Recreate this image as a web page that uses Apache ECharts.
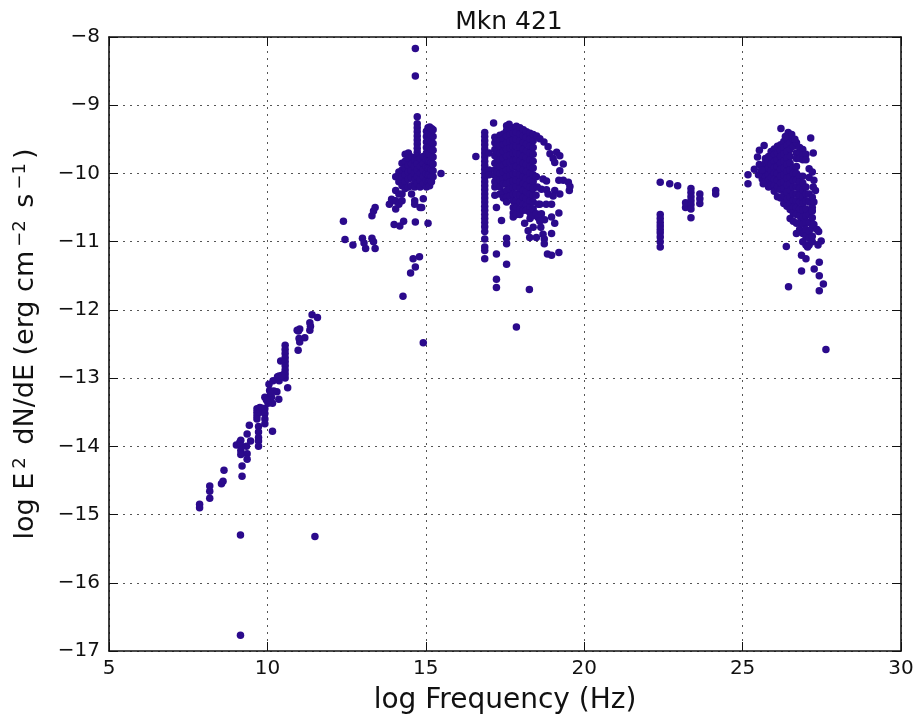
<!DOCTYPE html>
<html>
<head>
<meta charset="utf-8">
<style>html,body{margin:0;padding:0;background:#fff}#c{width:916px;height:717px}</style>
<script src="https://cdn.jsdelivr.net/npm/echarts@6/dist/echarts.min.js"></script>
</head>
<body>
<div id="c"></div>
<script>
const chartTitle = 'Mkn 421';
const xTicks = [5, 10, 15, 20, 25, 30];
const yTicks = [-17, -16, -15, -14, -13, -12, -11, -10, -9, -8];

const radioPoints = [[7.86,-14.85],[7.86,-14.9],[8.18,-14.58],[8.18,-14.66],[8.18,-14.76],[8.55,-14.55],[8.6,-14.51],[8.63,-14.35],[9.2,-14.44],[9.2,-14.29],
[9.02,-13.98],[9.13,-13.94],[9.16,-13.91],[9.16,-13.99],[9.16,-14.06],[9.16,-14.12],[9.34,-14],[9.36,-14.11],[9.36,-14.19],[9.47,-13.92],[9.36,-13.82],[9.43,-13.69],
[9.72,-13.71],[9.72,-13.79],[9.72,-13.87],[9.72,-13.92],[9.72,-14],[9.67,-13.45],[9.67,-13.5],[9.67,-13.55],[9.67,-13.6],[9.76,-13.43],[9.76,-13.5],[9.83,-13.44],
[9.92,-13.45],[9.92,-13.52],[9.92,-13.6],[9.92,-13.67],[10.16,-13.78],[9.92,-13.28],[10.13,-13.28],[10.16,-13.37],[10.36,-13.31],[10.02,-13.37],[9.97,-13.32],
[10.07,-13.18],[10.05,-13.09],[10.18,-13.04],[10.3,-13.2],[10.2,-13.19],[10.1,-13.22],[10.37,-13.04],[10.32,-12.98],[10.37,-12.97],[10.42,-12.75],[10.64,-13.14],
[10.56,-12.52],[10.56,-12.58],[10.56,-12.64],[10.56,-12.7],[10.56,-12.76],[10.56,-12.82],[10.56,-12.88],[10.56,-12.94],[10.56,-13],[10.5,-12.95],[10.45,-12.96],
[10.97,-12.59],[11.02,-12.47],[11,-12.42],[11.18,-12.41],[10.94,-12.3],[11.02,-12.28],[10.98,-12.31],[11.34,-12.3],[11.34,-12.19],[11.36,-12.24],[11.41,-12.07],[11.58,-12.11]];

const outlierPoints = [[9.15,-15.3],[11.5,-15.32],[9.15,-16.77],[14.92,-12.48],[17.86,-12.25],[27.63,-12.58]];

const infraredPoints = [[12.4,-10.7],[12.45,-10.97],[12.7,-11.05],[13,-10.95],[13.05,-11.02],[13.1,-11.1],[13.3,-10.95],[13.35,-11],[13.4,-11.1],[13.3,-10.62],[13.35,-10.55],[13.4,-10.5],[13.85,-10.45],[14,-10.4],[14,-10.75],[14.3,-10.7],[13.92,-10.38]];

const opticalColumnX = [14.05,14.15,14.25,14.35,14.45,14.55,14.65,14.73,14.82,14.92,15.02,15.07,15.12,15.18,15.23];
const opticalColumnY = [
 [-10.05,-10.25,-10.4,-10.52],
 [-9.98,-10.12,-10.3,-10.45],
 [-9.85,-9.95,-10.05,-10.18,-10.3,-10.4],
 [-9.72,-9.82,-9.92,-10.02,-10.12,-10.22],
 [-9.7,-9.78,-9.88,-9.98,-10.08,-10.2],
 [-9.76,-9.86,-9.96,-10.06,-10.18,-10.3],
 [-9.8,-9.9,-10,-10.1,-10.2,-10.4],
 [-9.27,-9.33,-9.39,-9.45,-9.51,-9.57,-9.63,-9.69,-9.75,-9.81,-9.86,-9.95,-10.05,-10.15],
 [-9.78,-9.9,-10,-10.1,-10.2,-10.5],
 [-9.75,-9.85,-9.95,-10.05,-10.15,-10.37],
 [-9.38,-9.46,-9.54,-9.62,-9.7,-9.8,-9.9,-10,-10.1,-10.2],
 [-9.33,-9.42,-9.52,-9.62,-9.72,-9.82,-9.92,-10.02,-10.12,-10.73],
 [-9.32,-9.42,-9.52,-9.62,-9.72,-9.82,-9.92,-10.02,-10.12,-10.18],
 [-9.34,-9.44,-9.54,-9.64,-9.74,-9.84,-9.94,-10.04,-10.12],
 [-9.36,-9.46,-9.56,-9.66,-9.76,-9.86,-9.96,-10.05]
];
const opticalExtraPoints = [[14.67,-8.17],[14.67,-8.57],[14.73,-9.17],[15.48,-10],[14.67,-10.71],[14.28,-11.8],[14.52,-11.46],[14.67,-11.37],[14.6,-11.25],[14.8,-11.22],[14.18,-10.77],[14.87,-10.5],[14.65,-10.45]];

const xrayColumnX = [16.86,17,17.18,17.26,17.34,17.45,17.55,17.66,17.76,17.86,17.97,18.08,18.18,18.29,18.39];
const xrayColumnY = [
 [-9.4,-9.46,-9.52,-9.58,-9.64,-9.7,-9.76,-9.82,-9.88,-9.94,-10,-10.06,-10.12,-10.18,-10.24,-10.3,-10.36,-10.42,-10.48,-10.54,-10.6,-10.66,-10.72,-10.78,-10.85,-10.96,-11.08,-11.13,-11.25],
 [-9.7,-9.95,-10.02],
 [-9.47,-9.55,-9.65,-9.74,-9.85,-9.95,-10.03,-10.12,-10.2,-10.32],
 [-9.5,-9.58,-9.68,-9.78,-9.88,-9.98,-10.08,-10.15],
 [-9.44,-9.52,-9.6,-9.7,-9.8,-9.9,-10,-10.1,-10.2,-10.3],
 [-9.42,-9.5,-9.58,-9.68,-9.78,-9.88,-9.98,-10.08,-10.15,-10.28,-10.36],
 [-9.37,-9.45,-9.55,-9.65,-9.75,-9.85,-9.95,-10.05,-10.15,-10.25,-10.35,-10.42],
 [-9.35,-9.43,-9.53,-9.63,-9.73,-9.83,-9.93,-10.03,-10.13,-10.23,-10.33],
 [-9.33,-9.41,-9.51,-9.61,-9.71,-9.81,-9.91,-10.01,-10.11,-10.21,-10.31,-10.4,-10.5,-10.58,-10.64],
 [-9.31,-9.4,-9.5,-9.6,-9.7,-9.8,-9.9,-10,-10.1,-10.2,-10.3,-10.4,-10.5,-10.6],
 [-9.33,-9.42,-9.52,-9.62,-9.72,-9.82,-9.92,-10.02,-10.12,-10.22,-10.32,-10.42,-10.52,-10.6],
 [-9.36,-9.45,-9.55,-9.65,-9.75,-9.85,-9.95,-10.05,-10.15,-10.25,-10.35,-10.45,-10.54],
 [-9.39,-9.47,-9.57,-9.67,-9.77,-9.87,-9.97,-10.07,-10.17,-10.27,-10.37,-10.47,-10.54],
 [-9.41,-9.5,-9.6,-9.7,-9.8,-9.9,-10,-10.1,-10.2,-10.3,-10.4,-10.5,-10.58,-10.66],
 [-9.43,-9.52,-9.62,-9.72,-9.82,-9.92,-10.02,-10.12,-10.22,-10.32,-10.42,-10.52,-10.62]
];
const xrayExtraPoints = [[16.58,-9.75],[17.14,-9.26],[17.55,-9.3],[17.63,-9.28],[18.6,-10.45],[18.8,-10.45],[18.97,-10.45],[18.49,-10.59],[18.65,-10.59],[18.97,-10.64],[19.07,-10.73],[19.2,-10.58],[18.12,-10.73],[18.39,-10.79],[18.23,-10.84],[18.63,-10.79],[18.28,-10.94],[18.49,-10.94],[18.7,-10.89],[18.97,-10.88],[18.74,-10.96],[18.74,-11.03],[18.84,-11.18],[18.97,-11.2],[19.2,-11.16],[17.55,-10.95],[17.55,-11.03],[17.23,-11.18],[17.55,-11.33],[17.23,-11.55],[17.23,-11.67],[18.27,-11.7],[17.39,-10.69],[17.23,-10.5],
[18.65,-10.23],[18.81,-10.24],[19.07,-10.25],[19.23,-10.3],[18.86,-10.3],[19.02,-10.33],[18.7,-10.08],[18.81,-10.11],[18.49,-10.05],[18.55,-10.65],[18.75,-10.68],[18.55,-10.45],[18.48,-10.32],[18.52,-10.2],[18.6,-10.7],
[18.5,-9.45],[18.6,-9.49],[18.73,-9.54],[18.86,-9.61],[18.92,-9.71],[19.13,-9.69],[19.23,-9.74],[19.02,-9.78],[19.07,-9.84],[19.34,-9.86],[19.23,-9.96],[19.34,-10.1],[19.5,-10.13],[19.53,-10.25],[19.55,-10.19],[19.2,-10.1]];

const gevPoints = [[22.4,-10.13],[22.4,-10.6],[22.4,-10.66],[22.4,-10.72],[22.4,-10.77],[22.4,-10.82],[22.4,-10.87],[22.4,-10.93],[22.4,-11],[22.4,-11.08],[22.7,-10.15],[22.95,-10.18],[23.2,-10.5],[23.2,-10.43],[23.37,-10.22],[23.37,-10.28],[23.37,-10.34],[23.37,-10.4],[23.37,-10.46],[23.37,-10.52],[23.37,-10.65],[23.65,-10.3],[23.65,-10.37],[23.65,-10.44],[24.15,-10.25],[24.15,-10.3]];

const tevColumnX = [25.62,25.72,25.82,25.9,26,26.1,26.2,26.3,26.4,26.5,26.6,26.7,26.8,26.9,27,27.1,27.2];
const tevColumnY = [
 [-9.9,-10,-10.08],
 [-9.78,-9.85,-9.95,-10.05,-10.12],
 [-9.75,-9.84,-9.92,-10.02,-10.1,-10.2],
 [-9.68,-9.76,-9.86,-9.96,-10.06,-10.17],
 [-9.64,-9.72,-9.82,-9.91,-10,-10.09,-10.18,-10.26],
 [-9.6,-9.7,-9.8,-9.9,-10,-10.1,-10.2,-10.34],
 [-9.58,-9.66,-9.75,-9.85,-9.94,-10.04,-10.14,-10.24,-10.36],
 [-9.53,-9.62,-9.72,-9.82,-9.92,-10.02,-10.12,-10.22,-10.32,-10.44],
 [-9.5,-9.59,-9.68,-9.77,-9.87,-9.97,-10.07,-10.17,-10.27,-10.37,-10.48],
 [-9.55,-9.65,-9.75,-9.85,-9.95,-10.05,-10.15,-10.25,-10.35,-10.45,-10.53,-10.66],
 [-9.5,-9.6,-9.92,-10,-10.1,-10.2,-10.3,-10.4,-10.5,-10.58,-10.7],
 [-9.55,-9.7,-9.78,-9.9,-10,-10.1,-10.2,-10.3,-10.4,-10.5,-10.6,-10.73,-10.88],
 [-9.62,-9.7,-9.78,-10.04,-10.12,-10.22,-10.32,-10.42,-10.52,-10.62,-10.72,-10.82],
 [-9.65,-9.73,-9.8,-10.04,-10.14,-10.24,-10.34,-10.44,-10.54,-10.64,-10.74,-10.88,-11],
 [-9.72,-9.8,-10.2,-10.3,-10.4,-10.52,-10.62,-10.72,-10.82,-10.92,-11.05],
 [-9.93,-10.06,-10.3,-10.42,-10.6,-10.72,-10.85,-10.95,-11.05],
 [-10.35,-10.5,-10.65,-10.8,-10.92,-11]
];
const tevExtraPoints = [[26.21,-9.34],[26.44,-9.4],[26.55,-9.43],[26.35,-9.46],[26.65,-9.5],[27.15,-9.48],[27.23,-9.7],[25.68,-9.59],[25.53,-9.66],[25.47,-9.76],[25.37,-9.94],[25.17,-10.02],[25.17,-10.15],[25.65,-10.15],[25.53,-9.87],[25.5,-10.02],[25.6,-9.95],[27.2,-9.98],[27.25,-10.1],[27.23,-10.2],[27.3,-10.25],[27.25,-10.42],[27.2,-10.55],[27.25,-10.75],[27.35,-10.82],[27.4,-10.85],[27.48,-10.99],[27.38,-11.05],[27.05,-11.08],[26.38,-11.07],[26.86,-11.2],[27,-11.25],[27.42,-11.3],[27.26,-11.4],[26.86,-11.43],[27.42,-11.5],[27.55,-11.62],[27.42,-11.72],[26.45,-11.66]];

function fromColumns(xs, ysList) {
  const out = [];
  xs.forEach((x, i) => ysList[i].forEach(y => out.push([x, y])));
  return out;
}
const allPoints = [].concat(
  radioPoints, outlierPoints, infraredPoints,
  fromColumns(opticalColumnX, opticalColumnY), opticalExtraPoints,
  fromColumns(xrayColumnX, xrayColumnY), xrayExtraPoints,
  gevPoints,
  fromColumns(tevColumnX, tevColumnY), tevExtraPoints
);

const ink = '#111';
const font = '"DejaVu Sans"';
const minus = v => String(v).replace('-', '\u2212');
const dotted = { show: true, lineStyle: { color: '#555', type: [2, 5], width: 1 } };
const frame = { show: true, lineStyle: { color: '#111', width: 1.6 } };
const tick = { show: true, inside: true, length: 9, lineStyle: { color: '#111', width: 1 } };

const chart = echarts.init(document.getElementById('c'), null, { renderer: 'canvas' });
chart.setOption({
  animation: false,
  backgroundColor: '#fff',
  title: {
    text: chartTitle, left: 504, top: 5, textAlign: 'center',
    textStyle: { fontFamily: font, fontSize: 25, fontWeight: 'normal', color: ink }
  },
  grid: { left: 109, right: 15, top: 37, bottom: 66, outerBoundsMode: 'none' },
  xAxis: [
    { type: 'value', min: xTicks[0], max: xTicks[xTicks.length - 1], interval: 5, position: 'bottom',
      axisLine: frame, axisTick: tick, splitLine: dotted,
      axisLabel: { fontFamily: font, fontSize: 20, color: ink, margin: 8, formatter: v => minus(v) },
      name: 'log Frequency (Hz)', nameLocation: 'middle', nameGap: 36,
      nameTextStyle: { fontFamily: font, fontSize: 28, color: ink } },
    { type: 'value', min: xTicks[0], max: xTicks[xTicks.length - 1], interval: 5, position: 'top',
      axisLine: frame, axisTick: tick, splitLine: { show: false }, axisLabel: { show: false } }
  ],
  yAxis: [
    { type: 'value', min: yTicks[0], max: yTicks[yTicks.length - 1], interval: 1, position: 'left',
      axisLine: frame, axisTick: tick, splitLine: dotted,
      axisLabel: { fontFamily: font, fontSize: 20, color: ink, margin: 9, formatter: v => minus(v) },
      name: 'log E{sup|2} dN/dE (erg cm{sup|\u22122} s{sup|\u22121})', nameLocation: 'middle', nameGap: 68,
      nameTextStyle: { fontFamily: font, fontSize: 27, color: ink,
        rich: { sup: { fontFamily: font, fontSize: 18, color: ink, verticalAlign: 'top', lineHeight: 30, padding: [0, 4, 0, 4] } } } },
    { type: 'value', min: yTicks[0], max: yTicks[yTicks.length - 1], interval: 1, position: 'right',
      axisLine: frame, axisTick: tick, splitLine: { show: false }, axisLabel: { show: false } }
  ],
  series: [{
    type: 'scatter', symbol: 'circle', symbolSize: 7.5, data: allPoints, silent: true,
    itemStyle: { color: '#2b0a8c', opacity: 1 }
  }]
});
</script>
</body>
</html>
